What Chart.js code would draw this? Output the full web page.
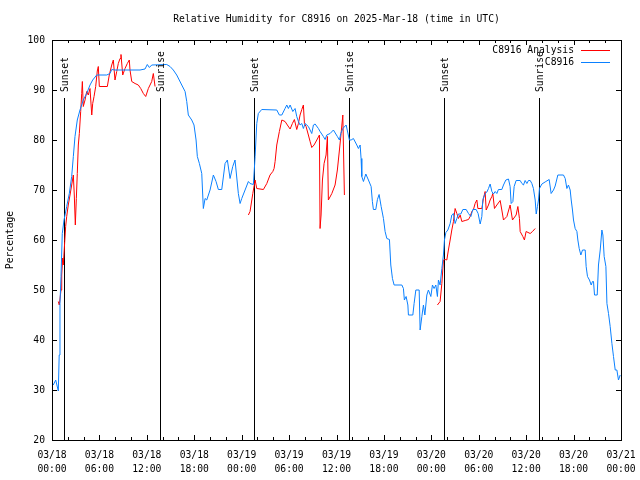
<!DOCTYPE html>
<html>
<head>
<meta charset="utf-8">
<script src="https://cdn.jsdelivr.net/npm/chart.js@4/dist/chart.umd.min.js"></script>
<style>
html,body{margin:0;padding:0;background:#fff;}
canvas{display:block;}
</style>
</head>
<body>
<canvas id="c" width="640" height="480"></canvas>
<script>
// ---- data (x = hours since 2025-03-18 00:00 UTC) ----
const chartTitle = "Relative Humidity for C8916 on 2025-Mar-18 (time in UTC)";
const yAxisTitle = "Percentage";
const seriesNames = ["C8916 Analysis", "C8916"];

const dateLabels = ["03/18","03/18","03/18","03/18","03/19","03/19","03/19","03/19","03/20","03/20","03/20","03/20","03/21"];
const timeLabels = ["00:00","06:00","12:00","18:00","00:00","06:00","12:00","18:00","00:00","06:00","12:00","18:00","00:00"];

const eventHours  = [1.56, 13.71, 25.6, 37.63, 49.66, 61.68];
const eventLabels = ["Sunset","Sunrise","Sunset","Sunrise","Sunset","Sunrise"];

const obsHours = [0.16,0.47,0.80,0.91,1.01,1.14,1.30,1.52,1.86,2.19,2.49,2.70,2.91,3.20,3.54,3.96,4.39,4.81,5.15,5.66,6.92,7.34,7.56,7.97,11.14,11.77,12.06,12.32,12.62,14.52,14.94,15.35,15.78,16.42,16.84,17.05,17.25,17.68,17.97,18.23,18.39,18.65,18.95,19.15,19.37,19.58,20.0,20.42,20.76,21.05,21.48,21.90,22.19,22.53,22.87,23.16,23.58,23.80,24.01,24.43,24.85,25.06,25.48,25.70,25.91,26.11,26.54,28.44,28.77,29.08,29.49,29.71,29.91,30.13,30.47,30.76,30.97,31.18,31.39,31.61,31.81,32.03,32.44,32.66,32.87,33.08,33.29,33.71,33.92,34.34,34.56,34.77,35.19,35.61,36.11,36.37,36.54,36.80,37.22,37.63,37.85,38.14,38.57,38.77,38.99,39.11,39.20,39.41,39.71,40.04,40.38,40.54,40.67,40.97,41.18,41.39,41.65,41.94,42.15,42.37,42.70,42.87,43.08,43.29,44.27,44.47,44.59,44.81,45.03,45.10,45.66,45.82,46.04,46.46,46.58,46.80,47.00,47.18,47.43,47.63,47.94,48.14,48.35,48.57,48.77,48.90,49.11,49.33,49.53,49.66,49.84,50.09,50.38,50.59,50.80,51.01,51.23,51.43,51.73,51.99,52.41,52.70,53.00,53.25,53.67,53.92,54.18,54.39,54.52,54.81,55.03,55.23,55.44,55.66,55.86,56.08,56.29,56.49,56.92,57.13,57.43,57.76,57.97,58.10,58.32,58.48,58.73,59.24,59.46,59.66,59.87,60.09,60.29,60.51,60.72,60.92,61.14,61.27,61.43,61.56,61.68,61.99,62.49,62.91,63.16,63.46,63.67,64.01,64.72,64.94,65.15,65.35,65.57,65.70,65.86,65.99,66.20,66.42,66.54,66.71,66.92,67.13,67.47,67.59,67.76,68.01,68.23,68.39,68.52,68.65,68.99,69.15,69.37,69.58,69.71,69.87,70.09,70.22,70.42,70.63,70.85,71.05,71.27,71.48,71.68,71.90];
const obsRH = [31,32,29.8,37,47.3,52.7,61.3,64,66.7,69.3,72.7,76.7,80.7,84,86,88,89.3,91,92,93,93,93.3,94.1,94,94,94.2,95.1,94.5,95,95.1,94.7,94,93,91,89.7,87.7,85,84,83,80,76.7,75.3,73.3,66.3,68.3,68,70,73,71.7,70.1,70.1,75.3,76,72.3,74.7,76,69.3,67.3,68.3,70,71.7,71.3,71.1,76.7,83.3,85.3,86.1,86,85,85,86.3,87,86.3,87,85.7,86.3,84.7,83.7,83,83.3,82.3,83.3,82.7,82,81.3,83,83.2,82.3,81.7,80.7,80.1,81,81.3,82,80.7,80,81.3,82.3,83,80,80,80.3,79,78.3,79,76.3,72.7,71.7,73.2,72,70.7,67.7,66.1,66.1,68.1,69.1,66.7,64.3,61.7,60.3,60.1,55,52.3,51,51,50.3,48,48.7,47,45,45,47.3,50,50,42,44.7,47,45,49,50,48.7,51,50.3,51,48.7,52,51,54.3,57,60,61.5,62,63.3,65,65.3,63.3,64.3,65.2,65.2,66.1,66.1,65.3,64.7,66.1,66.1,65.3,63.2,64.7,68.1,69.3,69.6,70.3,71.2,69.7,69.2,69.7,69.3,70.1,70.1,71,72,72.2,70.7,67.3,67.7,70.7,71.9,71.9,71.3,71,71.9,71.3,71.9,71.9,71.3,70.3,68,65.2,66.7,68,70.3,71.2,71.7,72.1,69.3,70,70.8,73,73,72.3,70.3,71,70,68,66,64,62.3,61.7,60,58.3,57,58,58,54.7,52.7,52,51,51.7,51.7,49,49,55,58,62,61,56.7,54.7,47.3,45.3,42.7,39.3,36.7,34,34,32,33];

const anaHours = [0.80,0.92,1.14,1.23,1.35,1.43,1.61,1.73,1.86,2.06,2.28,2.49,2.70,2.82,2.95,3.08,3.20,3.33,3.46,3.63,3.76,3.84,3.96,4.18,4.39,4.59,4.81,5.03,5.15,5.32,5.53,5.73,5.86,5.99,7.0,7.25,7.56,7.76,7.97,8.19,8.39,8.61,8.73,8.95,9.24,9.53,9.78,9.87,10.09,10.51,10.92,11.23,11.56,11.86,12.19,12.62,12.82,13.04,
  18.0,
  24.85,25.06,25.41,25.70,25.91,26.75,27.18,27.59,27.94,28.10,28.23,28.44,28.77,29.08,29.49,29.78,30.13,30.42,30.67,30.97,31.18,31.39,31.61,31.81,31.94,32.15,32.44,32.66,32.87,33.16,33.51,33.84,33.92,34.05,34.22,34.43,34.68,34.85,34.97,35.41,35.82,36.11,36.37,36.58,36.80,37.00,
  43.0,
  48.77,49.11,49.33,49.53,49.75,49.96,50.16,50.38,50.59,50.80,51.01,51.23,51.43,51.65,51.86,52.28,52.70,52.91,53.13,53.33,53.54,53.76,53.89,54.39,54.59,54.81,54.94,55.23,55.44,55.66,55.78,55.99,56.29,56.71,56.92,57.13,57.56,57.97,58.27,58.73,58.95,59.15,59.24,59.58,59.78,59.99,60.51,60.80,61.14];
const anaRH = [47.7,47,50,53,56.4,55,59.7,62.7,64.7,67,69,71,73,69,63,68.3,73.3,79,81.3,85.7,89.3,91.7,86.7,88,89.7,89,90.3,85,87.3,88.7,90.7,93.8,94.7,90.7,90.7,93,95,96,92,93.7,95.3,96.3,97.1,93,94.3,95.3,96,94,91.7,91.3,91,90.3,89.3,88.7,90.3,91.7,93.3,90.7,
  null,
  65,65.7,69.3,72,70.3,70.1,71.3,73,73.7,74.3,75.7,79,81.7,84,83.7,83,82.2,83.3,84.1,82.1,83.3,85,86.1,87,83.3,82.7,81,79.7,78.5,79,80,81,62.3,65,72,75.3,77,80.7,68,69.3,71,74,78,81.3,85,69,
  null,
  47,47.7,51.3,56,56.1,56,58,60,62,63.7,66.3,65.3,64.3,65,63.7,63.9,64.1,64.7,65.7,66.1,67.3,68,66.3,66.3,68.3,69.7,66,67,68,68.7,69.3,66.3,67,67.9,66,64,64.7,67,64,65,66.7,64.3,61.7,60.7,60,61.7,61.3,61.7,62.3];

// ---- styles ----
const FONT = "DejaVu Sans Mono";
const FS = 9.7;
const RED = "#ff0000";
const BLUE = "#0a80ff";

const toXY = (hs, vs) => hs.map((h, i) => ({x: h, y: vs[i]}));

const framePlugin = {
  id: "frame",
  beforeDatasetsDraw(chart) {
    const {ctx, chartArea: a, scales: {x, y}} = chart;
    ctx.save();
    ctx.strokeStyle = "#000";
    ctx.lineWidth = 1;
    const topY = Math.round(y.getPixelForValue(88.4));
    eventHours.forEach((h) => {
      const px = Math.round(x.getPixelForValue(h)) + 0.5;
      ctx.beginPath();
      ctx.moveTo(px, topY);
      ctx.lineTo(px, a.bottom);
      ctx.stroke();
    });
    ctx.restore();
  },
  afterDraw(chart) {
    const {ctx, chartArea: a, scales: {x, y}} = chart;
    ctx.save();
    ctx.strokeStyle = "#000";
    ctx.lineWidth = 1;
    ctx.strokeRect(Math.round(a.left) + 0.5, Math.round(a.top) + 0.5,
                   Math.round(a.right - a.left), Math.round(a.bottom - a.top));
    ctx.beginPath();
    for (let v = 20; v <= 100; v += 10) {
      const py = Math.round(y.getPixelForValue(v)) + 0.5;
      ctx.moveTo(a.left, py); ctx.lineTo(a.left + 5, py);
      ctx.moveTo(a.right, py); ctx.lineTo(a.right - 5, py);
    }
    for (let h = 0; h <= 72; h += 2) {
      const px = Math.round(x.getPixelForValue(h)) + 0.5;
      const len = (h % 6 === 0) ? 5 : 3;
      ctx.moveTo(px, a.bottom); ctx.lineTo(px, a.bottom - len);
      ctx.moveTo(px, a.top); ctx.lineTo(px, a.top + len);
    }
    ctx.stroke();

    ctx.fillStyle = "#000";
    ctx.font = FS + "px '" + FONT + "'";
    ctx.textAlign = "center";
    ctx.textBaseline = "middle";
    ctx.fillText(chartTitle, (a.left + a.right) / 2, 19);
    ctx.save();
    ctx.translate(10, (a.top + a.bottom) / 2);
    ctx.rotate(-Math.PI / 2);
    ctx.fillText(yAxisTitle, 0, 0);
    ctx.restore();
    eventHours.forEach((h, i) => {
      const px = x.getPixelForValue(h);
      ctx.save();
      ctx.translate(px + 1.5, 92);
      ctx.rotate(-Math.PI / 2);
      ctx.textAlign = "left";
      ctx.textBaseline = "middle";
      ctx.fillText(eventLabels[i], 0, 0);
      ctx.restore();
    });
    chart.data.datasets.forEach((ds, i) => {
      const ly = 50 + i * 12;
      ctx.textAlign = "right";
      ctx.textBaseline = "middle";
      ctx.fillStyle = "#000";
      ctx.fillText(ds.label, 574, ly);
      ctx.strokeStyle = ds.borderColor;
      ctx.beginPath();
      ctx.moveTo(581, Math.round(ly) + 0.5);
      ctx.lineTo(610, Math.round(ly) + 0.5);
      ctx.stroke();
    });
    ctx.restore();
  }
};

Chart.defaults.font.family = FONT;
Chart.defaults.font.size = FS;
Chart.defaults.color = "#000";

new Chart(document.getElementById("c"), {
  type: "line",
  data: {
    datasets: [
      {label: seriesNames[0], data: toXY(anaHours, anaRH), borderColor: RED, borderWidth: 1,
       pointRadius: 0, tension: 0, spanGaps: false, order: 2},
      {label: seriesNames[1], data: toXY(obsHours, obsRH), borderColor: BLUE, borderWidth: 1,
       pointRadius: 0, tension: 0, order: 1}
    ]
  },
  options: {
    responsive: false,
    animation: false,
    devicePixelRatio: 1,
    layout: {padding: {top: 40, right: 19, left: 0, bottom: 0}},
    plugins: {legend: {display: false}, tooltip: {enabled: false}, title: {display: false}},
    scales: {
      x: {
        type: "linear", min: 0, max: 72,
        grid: {display: false, drawTicks: false},
        border: {display: false},
        ticks: {
          stepSize: 6, autoSkip: false, maxRotation: 0, padding: 8,
          font: {size: FS, lineHeight: 1.45},
          callback: (v) => { const i = Math.round(v / 6); return [dateLabels[i], timeLabels[i]]; }
        },
        afterFit: (s) => { s.height = 40; s.paddingLeft = 0; s.paddingRight = 0; }
      },
      y: {
        min: 20, max: 100,
        grid: {display: false, drawTicks: false},
        border: {display: false},
        ticks: {stepSize: 10, padding: 7},
        afterFit: (s) => { s.width = 52; s.paddingTop = 0; s.paddingBottom = 0; }
      }
    }
  },
  plugins: [framePlugin]
});
</script>
</body>
</html>
